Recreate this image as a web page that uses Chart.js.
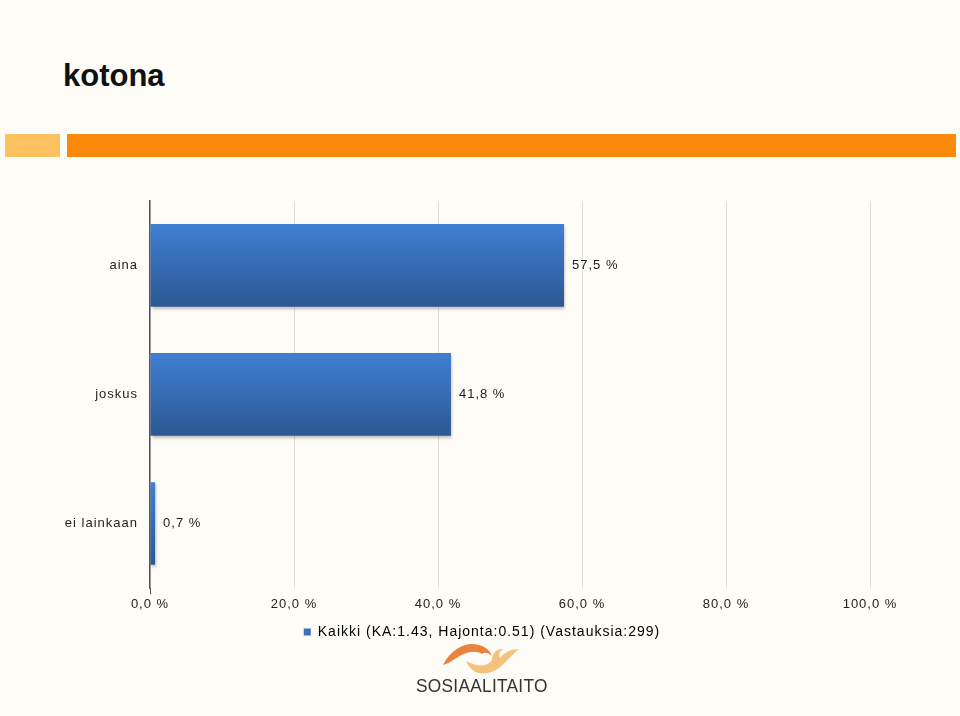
<!DOCTYPE html>
<html>
<head>
<meta charset="utf-8">
<script src="https://cdn.jsdelivr.net/npm/chart.js@4.4.1/dist/chart.umd.min.js"></script>
<style>
  html, body { margin: 0; padding: 0; }
  body { width: 960px; height: 716px; background: #fdfcf6; position: relative; overflow: hidden;
         font-family: "Liberation Sans", Arial, sans-serif; }
  #title { position: absolute; left: 63px; top: 60px; font-size: 31px; line-height: 31px; font-weight: bold; color: #111; }
  .band { position: absolute; top: 134px; height: 23px; }
  #wrap { position: absolute; left: 0; top: 181px; width: 960px; height: 466px; }
  #logoText { position: absolute; left: 416px; top: 676px; font-size: 19px; line-height: 20px; letter-spacing: 0.3px; color: #333;
              transform: scaleX(0.91); transform-origin: left top; }
  #swirl { position: absolute; left: 436px; top: 640px; }
</style>
</head>
<body>
<div id="title">kotona</div>
<div class="band" style="left:5px;width:55px;background:#fbc25f"></div>
<div class="band" style="left:67px;width:889px;background:#fb8a0c"></div>
<div id="wrap"><canvas id="c"></canvas></div>
<svg id="swirl" width="90" height="40" viewBox="0 0 90 40">
  <path d="M7 25 C 14 11, 26 4, 36 4 C 46 4, 54 9, 56 16 C 52 12, 48 12, 46 14 C 40 10, 30 12, 22 17 C 16 21, 11 24, 7 25 Z" fill="#e8843c"/>
  <path d="M30 21 C 34 31, 42 35, 52 33 C 64 31, 72 18, 83 9 C 74 9, 68 13, 64 18 C 62 14, 64 11, 68 9 C 60 8, 56 14, 56 20 C 52 26, 44 28, 30 21 Z" fill="#f4c27c"/>
</svg>
<div id="logoText">SOSIAALITAITO</div>
<script>
const categories = ['aina', 'joskus', 'ei lainkaan'];
const values = [57.5, 41.8, 0.7];
const seriesLabel = 'Kaikki (KA:1.43, Hajonta:0.51) (Vastauksia:299)';
const xTicks = [0, 20, 40, 60, 80, 100];

const fmt = v => v.toFixed(1).replace('.', ',') + ' %';

function barFill(c) {
  const chart = c.chart;
  const y = chart.scales && chart.scales.y;
  if (!y || c.dataIndex === undefined) return '#3a70bb';
  const cy = y.getPixelForValue(c.dataIndex);
  const half = (y.height / categories.length) * 0.64 / 2;
  const g = chart.ctx.createLinearGradient(0, cy - half, 0, cy + half);
  g.addColorStop(0, '#3f7fd2');
  g.addColorStop(1, '#2c5893');
  return g;
}

const extras = {
  id: 'extras',
  beforeUpdate(chart) { chart.ctx.letterSpacing = '1px'; },
  beforeDraw(chart) { chart.ctx.letterSpacing = '1px'; },
  afterLayout(chart) {
    // put the legend where the original had it
    chart.legend.left += 47;
    chart.legend.right += 47;
    chart.legend.top += 2;
    chart.legend.bottom += 2;
  },
  beforeDatasetsDraw(chart) {
    const ctx = chart.ctx;
    ctx.save();
    ctx.shadowColor = 'rgba(0,0,0,0.25)';
    ctx.shadowBlur = 3;
    ctx.shadowOffsetX = 1;
    ctx.shadowOffsetY = 2;
  },
  afterDatasetsDraw(chart) {
    const ctx = chart.ctx;
    ctx.restore();
    ctx.save();
    ctx.letterSpacing = '1px';
    ctx.font = '13px "Liberation Sans", Arial, sans-serif';
    ctx.fillStyle = '#222';
    ctx.textAlign = 'left';
    ctx.textBaseline = 'middle';
    chart.getDatasetMeta(0).data.forEach((bar, i) => {
      ctx.fillText(fmt(values[i]), bar.x + 8, bar.y);
    });
    ctx.restore();
  }
};

new Chart(document.getElementById('c'), {
  type: 'bar',
  data: {
    labels: categories,
    datasets: [{
      label: seriesLabel,
      data: values,
      backgroundColor: barFill,
      borderWidth: 0,
      categoryPercentage: 0.8,
      barPercentage: 0.8
    }]
  },
  options: {
    indexAxis: 'y',
    responsive: true,
    maintainAspectRatio: false,
    animation: false,
    layout: { padding: { left: 0, right: 90, top: 1, bottom: 0 } },
    scales: {
      x: {
        min: 0, max: 100,
        afterBuildTicks(s) { s.ticks = xTicks.map(v => ({ value: v })); },
        afterFit(s) { s.height = 27; },
        border: { display: false },
        grid: {
          color: '#dedede',
          tickLength: 6,
          tickColor: c => c.index === 0 ? '#555' : 'rgba(0,0,0,0)'
        },
        ticks: { callback: v => fmt(v), padding: 3, color: '#222', maxRotation: 0,
                 font: { family: '"Liberation Sans", Arial, sans-serif', size: 13 } }
      },
      y: {
        afterFit(s) { s.width = 150; },
        border: { display: true, color: '#555', width: 1.5 },
        grid: { display: false, drawTicks: false },
        ticks: { padding: 12, color: '#222',
                 font: { family: '"Liberation Sans", Arial, sans-serif', size: 13 } }
      }
    },
    plugins: {
      tooltip: { enabled: false },
      legend: {
        position: 'bottom',
        labels: {
          boxWidth: 7, boxHeight: 7, padding: 8, color: '#222',
          font: { family: '"Liberation Sans", Arial, sans-serif', size: 14 },
          generateLabels: chart => [{ text: seriesLabel, fillStyle: '#3a70bb', strokeStyle: '#3a70bb', lineWidth: 0, datasetIndex: 0 }]
        }
      }
    }
  },
  plugins: [extras]
});
</script>
</body>
</html>
